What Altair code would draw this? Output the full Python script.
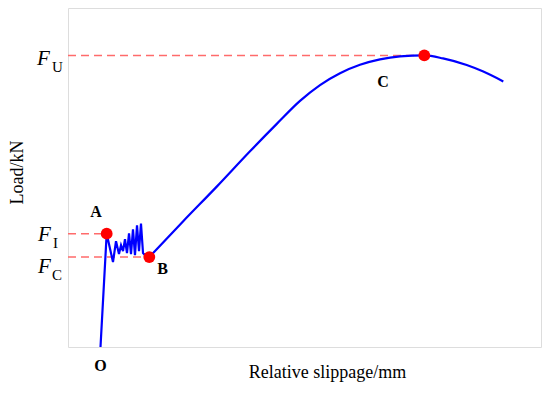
import altair as alt
import pandas as pd

# ---- data (slip in mm, load in kN, arbitrary units) ----
zig_slip = [0.687, 0.818, 0.951, 1.015, 1.078, 1.121, 1.163, 1.205, 1.247, 1.290,
            1.332, 1.374, 1.416, 1.459, 1.501, 1.543, 1.586, 1.649, 1.719]
zig_load = [0.0, 33.44, 25.07, 31.20, 27.41, 30.03, 28.28, 31.78, 27.70, 33.53,
            27.41, 34.69, 27.11, 35.86, 28.28, 36.44, 27.70, 26.82, 26.53]

rise_slip = [1.719, 2.431, 3.150, 3.848, 4.419, 4.905, 5.328, 5.751, 6.173, 6.596,
             7.019, 7.533, 7.928, 8.429, 8.780, 9.203]
rise_load = [26.53, 37.03, 47.38, 57.73, 65.89, 72.59, 77.26, 80.76, 83.24, 84.84,
             85.71, 86.01, 85.13, 83.18, 81.25, 78.34]

key_names = ["A", "B", "C"]
key_slip = [0.818, 1.719, 7.533]
key_load = [33.44, 26.53, 86.01]

label_names = ["A", "B", "C", "O"]
label_slip = [0.592, 1.998, 6.660, 0.687]
label_load = [39.94, 23.03, 78.13, -5.74]

f_main = ["F", "F", "F"]
f_sub = ["U", "I", "C"]
f_main_slip = [-0.655, -0.634, -0.634]
f_main_load = [83.09, 31.20, 21.95]
f_sub_slip = [-0.338, -0.317, -0.338]
f_sub_load = [81.05, 29.24, 19.83]

# ---- tables ----
zig = pd.DataFrame({"slip": zig_slip, "load": zig_load})
rise = pd.DataFrame({"slip": rise_slip, "load": rise_load})
keys = pd.DataFrame({"name": key_names, "slip": key_slip, "load": key_load,
                     "start": [0.0] * len(key_names)})
labels = pd.DataFrame({"name": label_names, "slip": label_slip, "load": label_load})
fmain = pd.DataFrame({"t": f_main, "slip": f_main_slip, "load": f_main_load})
fsub = pd.DataFrame({"t": f_sub, "slip": f_sub_slip, "load": f_sub_load})

SERIF = "Liberation Serif"

xs = alt.Scale(domain=[0, 10], nice=False, zero=False)
ys = alt.Scale(domain=[0, 100], nice=False, zero=False)

x_axis = alt.Axis(labels=False, ticks=False, domain=False, grid=False,
                  title="Relative slippage/mm", titleFont=SERIF, titleFontSize=18,
                  titleFontWeight="normal", titleColor="black",
                  titleX=259, titleY=30, titleAlign="center",
                  titleBaseline="alphabetic")
y_axis = alt.Axis(labels=False, ticks=False, domain=False, grid=False,
                  title="Load/kN", titleFont=SERIF, titleFontSize=18,
                  titleFontWeight="normal", titleColor="black",
                  titleX=-46, titleY=164, titleAlign="center",
                  titleBaseline="alphabetic", titleAngle=-90)

base_x = alt.X("slip:Q", scale=xs, axis=x_axis)
base_y = alt.Y("load:Q", scale=ys, axis=y_axis)

dashes = alt.Chart(keys).mark_rule(color="#ff6b6b", strokeWidth=1.5,
                                   strokeDash=[8, 5]).encode(
    x=alt.X("start:Q", scale=xs, axis=x_axis),
    x2="slip:Q",
    y=base_y,
)

zig_line = alt.Chart(zig).mark_line(color="#0000ff", strokeWidth=2.2,
                                    interpolate="linear").encode(
    x=base_x, y=base_y, order="slip:Q")

rise_line = alt.Chart(rise).mark_line(color="#0000ff", strokeWidth=2.2,
                                      interpolate="monotone").encode(
    x=base_x, y=base_y, order="slip:Q")

pts = alt.Chart(keys).mark_circle(color="#ff0000", opacity=1, size=140).encode(
    x=base_x, y=base_y)

pt_labels = alt.Chart(labels).mark_text(font=SERIF, fontSize=16, fontWeight="bold",
                                        color="black", align="center",
                                        baseline="middle").encode(
    x=base_x, y=base_y, text="name:N")

f_big = alt.Chart(fmain).mark_text(font=SERIF, fontSize=21, fontStyle="italic",
                                   color="black", align="left",
                                   baseline="alphabetic").encode(
    x=base_x, y=base_y, text="t:N")

f_small = alt.Chart(fsub).mark_text(font=SERIF, fontSize=15, color="black",
                                    align="left", baseline="alphabetic").encode(
    x=base_x, y=base_y, text="t:N")

chart = alt.layer(dashes, zig_line, rise_line, pts, pt_labels, f_big, f_small).properties(
    width=473, height=339,
    autosize=alt.AutoSizeParams(type="none"),
    padding={"left": 60, "top": 0, "right": 1, "bottom": 40},
).configure_view(stroke="#595959", strokeWidth=1.5).configure(background="white")

chart.save("out.html", embed_options={"renderer": "svg", "actions": False})
